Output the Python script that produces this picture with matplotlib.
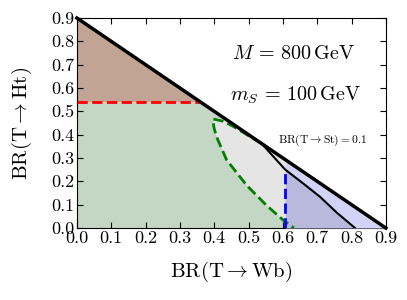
import matplotlib

matplotlib.use("Agg")
import matplotlib.pyplot as plt
import numpy as np

plt.rcParams["font.family"] = "serif"
plt.rcParams["font.serif"] = ["cmr10"]
plt.rcParams["mathtext.fontset"] = "cm"
plt.rcParams["axes.formatter.use_mathtext"] = True

# limite BR(Wb) + BR(Ht) = 1 - BR(St)
br_total = 0.9
# exclusion BR(Ht)
ht_limit = 0.54
# exclusion BR(Wb)
wb_limit = 0.607

# contorno verde (rama superior y rama inferior)
green_upper_x = [0.538, 0.504, 0.456, 0.425, 0.397]
green_upper_y = [0.362, 0.392, 0.435, 0.458, 0.467]
green_lower_x = [0.397, 0.398, 0.402, 0.410, 0.436, 0.495, 0.553, 0.600, 0.632]
green_lower_y = [0.467, 0.440, 0.415, 0.380, 0.292, 0.182, 0.096, 0.035, 0.0]

# curva fina negra
thin_x = [0.538, 0.607, 0.660, 0.708, 0.757, 0.810]
thin_y = [0.362, 0.250, 0.190, 0.134, 0.066, 0.0]

fig = plt.figure(figsize=(4.07, 3.0), dpi=100)
ax = fig.add_axes([0.189, 0.24, 0.759, 0.70])

# verde: todo lo que queda debajo de la linea y de ht_limit
x_green = br_total - ht_limit
ax.fill([0, 0, x_green, br_total], [0, ht_limit, ht_limit, 0],
        color="#c4d6c4", lw=0, zorder=1)

# marron: por encima de ht_limit
ax.fill([0, 0, x_green], [ht_limit, br_total, ht_limit],
        color="#c2a494", lw=0, zorder=1)

# gris: dentro del contorno verde hasta la linea
x_top = 0.43
gx = green_lower_x[::-1] + [x_top, br_total]
gy = green_lower_y[::-1] + [br_total - x_top, 0.0]
ax.fill(gx, gy, color="#e5e5e5", lw=0, zorder=2)

# azul: a la derecha de wb_limit
xs = np.linspace(wb_limit, br_total, 200)
thin_interp = np.interp(xs, thin_x, thin_y, right=0.0)
ax.fill_between(xs, thin_interp, br_total - xs, color="#d3d3f8", lw=0, zorder=3)
ax.fill_between(xs, 0, thin_interp, color="#b9b9dd", lw=0, zorder=3)

# lineas
ax.plot([0, x_green], [ht_limit, ht_limit], color="red", ls="--", lw=2, zorder=5)
ax.plot(green_upper_x + green_lower_x[1:], green_upper_y + green_lower_y[1:],
        color="green", ls="--", lw=2, zorder=5)
ax.plot([wb_limit, wb_limit], [0, br_total - wb_limit - 0.04],
        color="blue", ls="--", lw=2, zorder=5)
ax.plot(thin_x, thin_y, color="black", lw=1.5, zorder=6)
ax.plot([0, br_total], [br_total, 0], color="black", lw=2.5, zorder=7,
        clip_on=False)

ax.text(0.452, 0.725, r"$M\,=\,800\,\mathrm{GeV}$", fontsize=14.5)
ax.text(0.446, 0.545, r"$m_S\,=\,100\,\mathrm{GeV}$", fontsize=14.5)
ax.text(0.587, 0.375, r"$\mathrm{BR}(\mathrm{T}\rightarrow\mathrm{St})=0.1$",
        fontsize=8.3, va="center")

ticks = np.round(np.arange(0, 0.91, 0.1), 1)
ax.set_xlim(0, 0.9)
ax.set_ylim(0, 0.9)
ax.set_xticks(ticks)
ax.set_yticks(ticks)
ax.set_xticklabels([f"{t:.1f}" for t in ticks])
ax.set_yticklabels([f"{t:.1f}" for t in ticks])
ax.tick_params(direction="in", top=True, right=True, labelsize=13, pad=2,
               length=4)

ax.set_xlabel(r"$\mathrm{BR}(\mathrm{T}\rightarrow\mathrm{Wb})$", fontsize=15,
              labelpad=10)
ax.set_ylabel(r"$\mathrm{BR}(\mathrm{T}\rightarrow\mathrm{Ht})$", fontsize=15,
              labelpad=12)

fig.savefig("out.png", dpi=100)
